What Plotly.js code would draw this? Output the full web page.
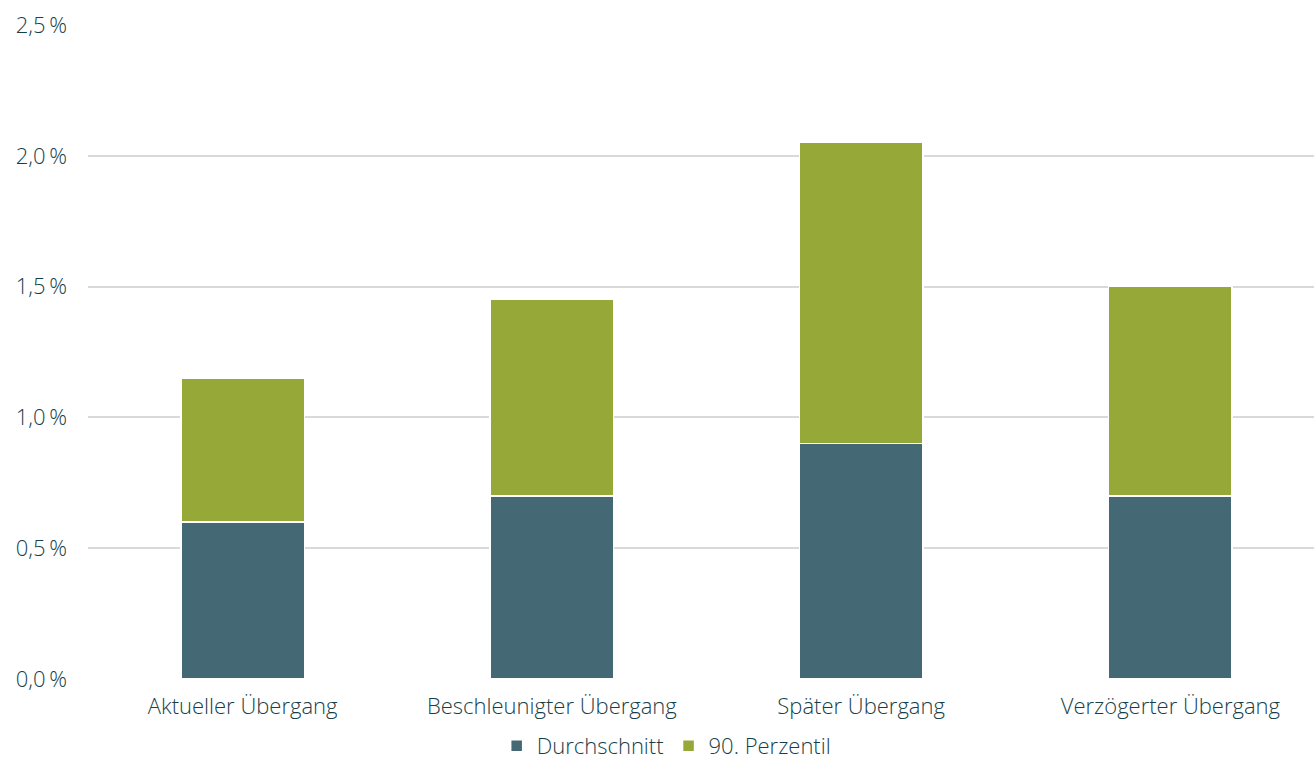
<!DOCTYPE html>
<html>
<head>
<meta charset="utf-8">
<script src="https://cdn.plot.ly/plotly-3.0.1.min.js"></script>
<style>html,body{margin:0;padding:0;background:#fff;}#chart{width:1314px;height:767px;}</style>
</head>
<body>
<div id="chart"></div>
<script>
const categories = ["Aktueller Übergang", "Beschleunigter Übergang", "Später Übergang", "Verzögerter Übergang"];
const durchschnitt = [0.60, 0.70, 0.90, 0.70];
const perzentil90Aufschlag = [0.55, 0.75, 1.15, 0.80];
const tickVals = [0, 0.5, 1.0, 1.5, 2.0, 2.5];
const tickText = ["0,0\u2009%", "0,5\u2009%", "1,0\u2009%", "1,5\u2009%", "2,0\u2009%", "2,5\u2009%"];

const textColor = "#173f4a";
const fontFam = "'Open Sans', 'Noto Sans', sans-serif";

const traces = [
  {
    type: "bar", name: "Durchschnitt", x: categories, y: durchschnitt,
    marker: {color: "#446974", line: {color: "#ffffff", width: 1.5}},
    hoverinfo: "skip"
  },
  {
    type: "bar", name: "90. Perzentil", x: categories, y: perzentil90Aufschlag,
    marker: {color: "#95a838", line: {color: "#ffffff", width: 1.5}},
    hoverinfo: "skip"
  }
];

const layout = {
  width: 1314, height: 767,
  barmode: "stack", bargap: 0.6,
  paper_bgcolor: "#fff", plot_bgcolor: "#fff",
  margin: {l: 88, r: 0, t: 25, b: 88},
  font: {family: fontFam, color: textColor, size: 22, weight: 300},
  xaxis: {
    type: "category", range: [-0.5, 3.4644], automargin: false,
    showgrid: false, zeroline: false, showline: false,
    ticks: "", ticklabelstandoff: 12, tickfont: {size: 22, color: textColor, weight: 300}
  },
  yaxis: {
    range: [0, 2.5], tickvals: tickVals, ticktext: tickText, automargin: false,
    showgrid: true, gridcolor: "#d9d9d9", gridwidth: 2,
    zeroline: false, showline: false, ticks: "", ticklabelstandoff: 20,
    tickfont: {size: 22, color: textColor, weight: 300}
  },
  showlegend: true,
  legend: {
    orientation: "h", x: 0.472, xanchor: "center", yref: "container", y: -0.008, yanchor: "bottom",
    font: {size: 22, color: textColor, weight: 300}, itemclick: false, traceorder: "normal",
    itemwidth: 30, itemgap: 4, tracegroupgap: 0
  }
};

Plotly.newPlot("chart", traces, layout, {staticPlot: true, displayModeBar: false});
</script>
</body>
</html>
